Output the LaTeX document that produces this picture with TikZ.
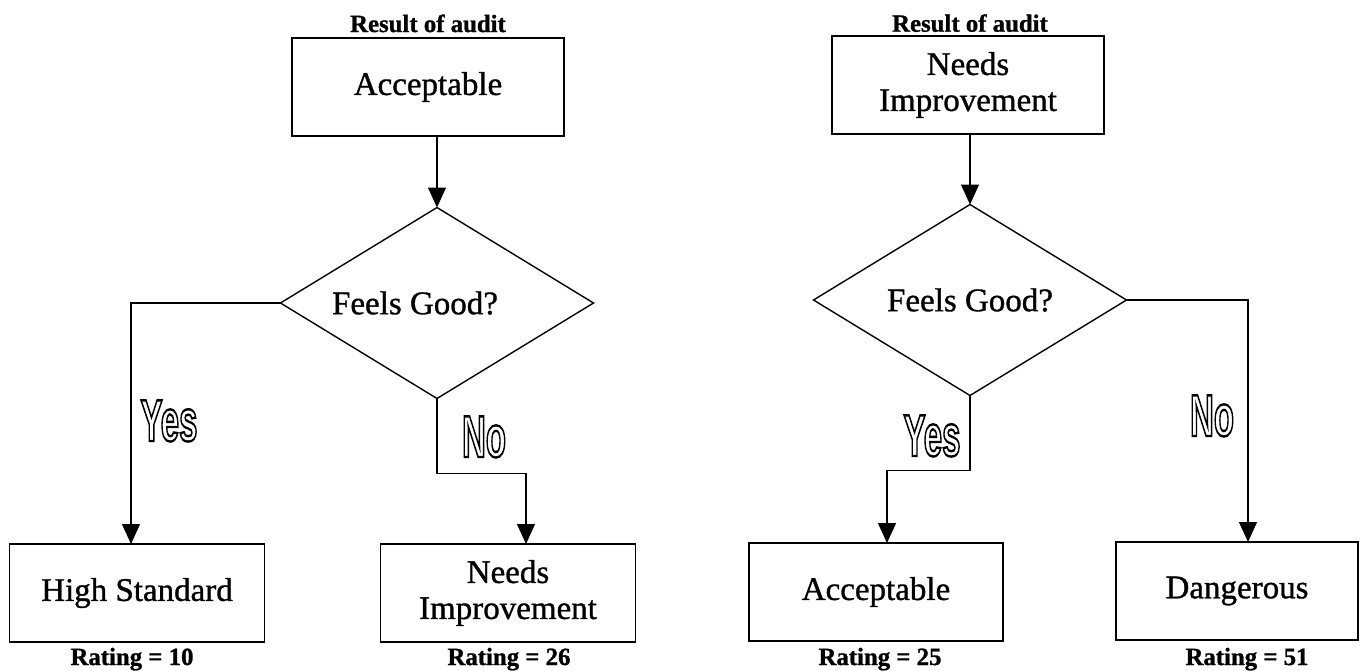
\documentclass[tikz,border=0pt]{standalone}
\usepackage{fontspec}
\setmainfont{Liberation Serif}[RawFeature={embolden=1.0}]
\newfontfamily\yesnofont{Liberation Sans}
\usetikzlibrary{shapes.geometric,arrows.meta}
\tikzset{
 box/.style={draw, line width=0.8pt, rectangle, inner sep=0pt, outer sep=0pt, align=center,
   minimum height=49pt, font=\fontsize{16.5}{18}\selectfont},
 dia/.style={draw, line width=0.7pt, diamond, inner sep=0pt, outer sep=0pt,
   minimum width=156.5pt, minimum height=95.5pt},
 qtext/.style={font=\fontsize{16.5}{18}\selectfont, inner sep=0pt},
 caption/.style={font=\bfseries\fontsize{12.4}{14}\selectfont, inner sep=0pt, anchor=base},
 conn/.style={line width=0.6pt, -{Triangle[length=10pt,width=9pt]}},
 yn/.style={inner sep=0pt, font=\yesnofont\bfseries\fontsize{29.5}{30}\selectfont}
}
\newcommand{\outl}[1]{\scalebox{0.56}[1]{\special{pdf:literal direct 1 Tr 1.2 w}#1\special{pdf:literal direct 0 Tr}}}
\begin{document}
\begin{tikzpicture}[x=0.5pt,y=-0.5pt]
\useasboundingbox (0,0) rectangle (1360,670);
% ---------- left diagram ----------
\node[caption] (t1) at (428,32) {Result of audit};
\node[box, minimum width=136pt] (A1) at (428,87) {Acceptable};
\node[dia, label={[qtext, xshift=-11pt]center:Feels Good?}] (d1) at (437,303) {};
\node[box, minimum width=127.5pt] (HS) at (137,593) {High Standard};
\node[box, minimum width=127.5pt] (NI1) at (508,593) {Needs\\Improvement};
\node[caption] (r10) at (132,665) {Rating = 10};
\node[caption] (r26) at (509,665) {Rating = 26};
\node[yn] (y1) at (169,421) {\outl{Yes}};
\node[yn] (n1) at (484,437) {\outl{No}};
\draw[conn] (A1.south -| d1.north) -- (d1.north);
\draw[conn] (d1.west) -| ([xshift=-3pt]HS.north);
\draw[conn] (d1.south) -- ++(0,75) -| ([xshift=9pt]NI1.north);
% ---------- right diagram ----------
\node[caption] (t2) at (970,31.7) {Result of audit};
\node[box, minimum width=136pt] (NI2) at (968,85) {Needs\\Improvement};
\node[dia, label={[qtext]center:Feels Good?}] (d2) at (970,300) {};
\node[box, minimum width=127pt] (AC2) at (876,592) {Acceptable};
\node[box, minimum width=121pt] (DG) at (1237,591) {Dangerous};
\node[caption] (r25) at (880,665) {Rating = 25};
\node[caption] (r51) at (1247,665) {Rating = 51};
\node[yn] (y2) at (932,436) {\outl{Yes}};
\node[yn] (n2) at (1212,416) {\outl{No}};
\draw[conn] (NI2.south -| d2.north) -- (d2.north);
\draw[conn] (d2.south) -- ++(0,75) -| ([xshift=5.5pt]AC2.north);
\draw[conn] (d2.east) -| ([xshift=5.5pt]DG.north);
\end{tikzpicture}
\end{document}
